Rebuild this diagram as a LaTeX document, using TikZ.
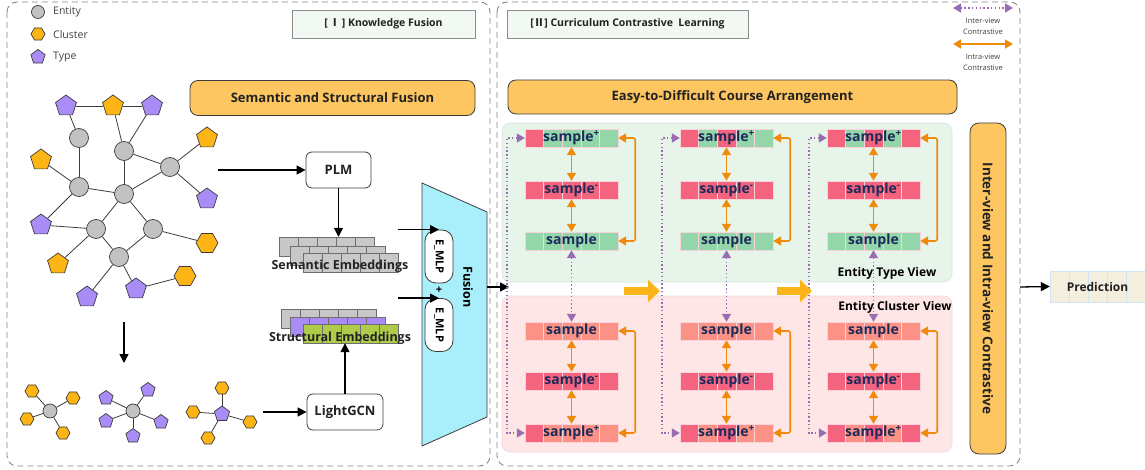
\documentclass[tikz,border=0pt]{standalone}
\usepackage{fontspec}
\setmainfont{Open Sans}
\newfontfamily\cjk{Noto Sans CJK SC}
\usetikzlibrary{arrows.meta,shapes.geometric,calc}

\definecolor{panelgray}{HTML}{858585}
\definecolor{edgegray}{HTML}{3C3C3C}
\definecolor{nodegray}{HTML}{C2C2C2}
\definecolor{clusterc}{HTML}{FDB515}
\definecolor{typec}{HTML}{A98CF5}
\definecolor{boxorange}{HTML}{FDC660}
\definecolor{titlefill}{HTML}{F2F8F2}
\definecolor{titleline}{HTML}{8C8C8C}
\definecolor{darktext}{HTML}{222222}
\definecolor{legendgray}{HTML}{404040}
\definecolor{fusioncyan}{HTML}{A9EEFB}
\definecolor{embgray}{HTML}{C8C8C8}
\definecolor{embpurple}{HTML}{A98CF5}
\definecolor{embgreen}{HTML}{AECB4A}
\definecolor{embline}{HTML}{6E6E6E}
\definecolor{pinkc}{HTML}{F4647F}
\definecolor{greenc}{HTML}{93D6A9}
\definecolor{salmonc}{HTML}{FB9285}
\definecolor{cellline}{HTML}{F9D3DA}
\definecolor{navy}{HTML}{1C2B5A}
\definecolor{arrorange}{HTML}{EF8A0A}
\definecolor{arrpurple}{HTML}{9A6DB2}
\definecolor{typebg}{HTML}{E7F4EA}
\definecolor{typeline}{HTML}{D8E9DC}
\definecolor{clusterbg}{HTML}{FDE6E5}
\definecolor{clusterline}{HTML}{F6D6D6}
\definecolor{blockyellow}{HTML}{FBB41A}
\definecolor{predfill}{HTML}{F3EEDD}
\definecolor{predline}{HTML}{CFE6F2}

\newcommand\txtsize[1]{\fontsize{#1}{#1}\selectfont}
\newcommand\samplep{sample\textsuperscript{+}}
\newcommand\samplem{sample\textsuperscript{-}}

\tikzset{
  panel/.style={draw=panelgray, line width=0.9pt, dash pattern=on 6pt off 4pt, rounded corners=10pt},
  ent/.style={circle, draw=edgegray, fill=nodegray, line width=0.7pt, minimum size=19pt, inner sep=0pt},
  typep/.style={regular polygon, regular polygon sides=5, draw=edgegray, fill=typec, line width=0.7pt, minimum size=22pt, inner sep=0pt},
  clusp/.style={typep, fill=clusterc},
  hexa/.style={regular polygon, regular polygon sides=6, draw=edgegray, fill=clusterc, line width=0.7pt, minimum size=22pt, inner sep=0pt},
  gedge/.style={draw=edgegray, line width=0.8pt},
  blackarr/.style={draw=black, line width=1.3pt, -{Triangle[length=9pt,width=9pt]}},
  procbox/.style={draw=edgegray, fill=white, line width=0.8pt, rounded corners=6pt, font=\txtsize{13}\bfseries, text=darktext},
  stagebox/.style={draw=edgegray, fill=boxorange, line width=0.8pt, rounded corners=8pt, font=\txtsize{13}\bfseries, text=darktext},
  titlebox/.style={draw=titleline, fill=titlefill, line width=0.6pt, font=\txtsize{10.5}\bfseries, text=darktext},
  legendtxt/.style={anchor=west, font=\txtsize{10.5}, text=legendgray, inner sep=0pt},
  smalltxt/.style={font=\txtsize{7.5}, text=legendgray, inner sep=0pt},
  emblayer/.style={minimum width=95pt, minimum height=19pt, inner sep=0pt},
  embcell/.style={draw=embline, line width=0.5pt},
  embtxt/.style={font=\txtsize{12.5}\bfseries, text=darktext, inner sep=0pt},
  mlpbox/.style={draw=edgegray, fill=white, line width=0.8pt, rounded corners=11pt, rotate=-90, minimum width=53pt, minimum height=28pt, inner sep=0pt, font=\txtsize{11}\bfseries},
  rowbox/.style={minimum width=93pt, minimum height=18pt, inner sep=0pt},
  samplecell/.style={draw=cellline, line width=0.6pt},
  sampletxt/.style={font=\txtsize{14}\bfseries, text=navy, inner sep=0pt},
  orangearr/.style={draw=arrorange, line width=1.6pt, rounded corners=2pt, {Triangle[length=8pt,width=9pt]}-{Triangle[length=8pt,width=9pt]}},
  purplearr/.style={draw=arrpurple, line width=1.4pt, dash pattern=on 1.4pt off 2.4pt, {Triangle[length=8pt,width=9pt]}-{Triangle[length=8pt,width=9pt]}},
  blockarr/.style={draw=blockyellow, line width=8pt, -{Triangle[length=12pt,width=22pt]}},
  viewlabel/.style={font=\txtsize{12}\bfseries, text=black, inner sep=0pt},
}

% one row of five coloured cells with its label: name, x, y, colours, label
\newcommand\samplerow[5]{%
  \node[rowbox] (#1) at (#2,#3) {};
  \foreach \cc [count=\ii from 0] in {#4}
    \filldraw[samplecell, fill=\cc] ({#2-46.5+\ii*18.6},{#3-9}) rectangle ++(18.6,18);
  \node[sampletxt] (#1t) at (#2,#3) {#5};
}

% one layer of an embedding stack: name, left x, top y, colour
\newcommand\emblayer[4]{%
  \node[emblayer] (#1) at ({#2+47.5},{#3+9.5}) {};
  \foreach \kk in {0,...,4}
    \filldraw[embcell, fill=#4] ({#2+\kk*19},#3) rectangle ++(19,19);
}

\begin{document}
\begin{tikzpicture}[x=1pt,y=-1pt]
\useasboundingbox (0,0) rectangle (1145,470);

% ---------------- panels ----------------
\draw[panel] (7,2) rectangle (490,466);
\draw[panel] (497,2) rectangle (1020,466);

% ---------------- legend ----------------
\node[ent, minimum size=13pt] (lgEnt) at (38,12) {};
\node[legendtxt] (lgEntT) at (53,12) {Entity};
\node[hexa, minimum size=14pt] (lgClu) at (38,34) {};
\node[legendtxt] (lgCluT) at (53,35) {Cluster};
\node[typep, minimum size=15pt] (lgTyp) at (38,57) {};
\node[legendtxt] (lgTypT) at (53,57) {Type};

% ---------------- section titles ----------------
\node[titlebox, minimum width=183pt, minimum height=28pt] (kfTitle) at (383.5,24) {[\,{\cjk Ⅰ}\,] Knowledge Fusion};
\node[titlebox, minimum width=241pt, minimum height=28pt] (clTitle) at (627.5,24) {[{\cjk Ⅱ}] Curriculum Contrastive\ \ Learning};
\node[stagebox, minimum width=285pt, minimum height=35pt] (ssf) at (332.5,98) {Semantic and Structural Fusion};
\node[stagebox, minimum width=449pt, minimum height=34pt] (edc) at (732.5,97) {Easy-to-Difficult Course Arrangement};

% ---------------- knowledge graph ----------------
\node[ent] (c1) at (79,138) {};
\node[ent] (c2) at (124,151) {};
\node[ent] (c3) at (170,167) {};
\node[ent] (c4) at (79,187) {};
\node[ent] (c5) at (124,194) {};
\node[ent] (c6) at (96,229) {};
\node[ent] (c7) at (153,229) {};
\node[ent] (c8) at (119,257) {};
\node[typep] (p1) at (66,106) {};
\node[typep] (p2) at (152,106) {};
\node[typep] (p3) at (207,199) {};
\node[typep] (p4) at (41,225) {};
\node[typep] (p5) at (136,289) {};
\node[typep] (p6) at (87,297) {};
\node[clusp] (o1) at (113,106) {};
\node[clusp] (o2) at (41,160) {};
\node[clusp] (o3) at (207,138) {};
\node[clusp] (o4) at (58,264) {};
\node[hexa] (h1) at (207,243) {};
\node[hexa] (h2) at (185,276) {};
\foreach \a/\b in {p1/o1, o1/p2, p1/c1, o1/c2, p2/c2, c1/c4, c2/c5, c2/c3, o2/c4,
                   c4/c5, c5/c3, c3/o3, c3/p3, p4/c4, p4/c6, c5/c6, c5/c7, c6/o4,
                   c6/c8, c7/h1, c7/c8, c8/p6, c8/p5, p5/h2}
  \draw[gedge] (\a) -- (\b);

% ---------------- decomposed stars ----------------
\node[ent, minimum size=14pt] (st1) at (50,411) {};
\foreach \p [count=\i] in {(32,391),(73,398),(27,419),(63,433)} {
  \node[hexa, minimum size=14pt] (st1l\i) at \p {};
  \draw[gedge] (st1) -- (st1l\i);
}
\node[ent, minimum size=14pt] (st2) at (133,411) {};
\foreach \p [count=\i] in {(106,398),(148,390),(106,421),(161,422),(133,436)} {
  \node[typep, minimum size=15pt] (st2l\i) at \p {};
  \draw[gedge] (st2) -- (st2l\i);
}
\node[typep, minimum size=16pt] (st3) at (222,414) {};
\foreach \p [count=\i] in {(222,388),(193,412),(250,422),(208,438)} {
  \node[hexa, minimum size=14pt] (st3l\i) at \p {};
  \draw[gedge] (st3) -- (st3l\i);
}

% ---------------- encoders ----------------
\node[procbox, minimum width=65pt, minimum height=36pt] (plm) at (338.5,170) {PLM};
\node[procbox, minimum width=76pt, minimum height=36pt] (lgcn) at (345,412) {LightGCN};
\coordinate (graphR) at (218,170);
\coordinate (graphB) at (124,322);
\coordinate (starsT) at (124,363);
\coordinate (starsR) at (263,412);
\draw[blackarr] (graphR) -- (plm.west);
\draw[blackarr] (graphB) -- (starsT);
\draw[blackarr] (starsR) -- (lgcn.west);

% semantic embeddings
\emblayer{semA}{279}{237}{embgray}
\emblayer{semB}{290}{246}{embgray}
\emblayer{sem}{303}{253}{embgray}
\node[embtxt] (semT) at (340,266) {Semantic Embeddings};
% structural embeddings
\emblayer{strA}{281}{309}{embgray}
\emblayer{strB}{290}{317}{embpurple}
\emblayer{str}{303}{324}{embgreen}
\node[embtxt] (strT) at (340,338) {Structural Embeddings};

\draw[blackarr] (plm.south) -- (plm.south |- semA.north);
\draw[blackarr] (lgcn.north) -- (lgcn.north |- str.south);

% ---------------- fusion ----------------
\draw[draw=edgegray, fill=fusioncyan, line width=0.8pt] (422,183) -- (487,212) -- (487,417) -- (422,446) -- cycle;
\node[mlpbox] (emlp1) at (439,256.5) {E\_MLP};
\node[mlpbox] (emlp2) at (439,325) {E\_MLP};
\node[font=\txtsize{11}\bfseries, inner sep=0pt] (plus) at (439,290) {+};
\node[font=\txtsize{12.5}\bfseries, rotate=-90, inner sep=0pt] (fusionT) at (468,287) {Fusion};
\draw[blackarr] (sem.east |- emlp1.west) -- (emlp1.west);
\draw[blackarr] (str.east |- emlp2.west) -- (emlp2.west);
\coordinate (fusionR) at (487,287);
\coordinate (viewIn) at (509,287);
\draw[blackarr] (fusionR) -- (viewIn);

% ---------------- views ----------------
\filldraw[fill=typebg, draw=typeline, line width=0.6pt, rounded corners=8pt] (502,123) rectangle (952,282);
\filldraw[fill=clusterbg, draw=clusterline, line width=0.6pt, rounded corners=8pt] (502,296) rectangle (952,452);

% column 1
\samplerow{s11}{571.5}{138}{pinkc,greenc,greenc,greenc,greenc}{\samplep}
\samplerow{s12}{571.5}{190}{pinkc,pinkc,pinkc,pinkc,pinkc}{\samplem}
\samplerow{s13}{571.5}{241}{greenc,greenc,greenc,greenc,greenc}{sample}
\samplerow{s14}{571.5}{331}{salmonc,salmonc,salmonc,salmonc,salmonc}{sample}
\samplerow{s15}{571.5}{381}{pinkc,pinkc,pinkc,pinkc,pinkc}{\samplem}
\samplerow{s16}{571.5}{433}{pinkc,salmonc,salmonc,salmonc,salmonc}{\samplep}
% column 2
\samplerow{s21}{726.5}{138}{pinkc,greenc,pinkc,greenc,greenc}{\samplep}
\samplerow{s22}{726.5}{190}{pinkc,pinkc,pinkc,pinkc,pinkc}{\samplem}
\samplerow{s23}{726.5}{241}{greenc,greenc,greenc,greenc,greenc}{sample}
\samplerow{s24}{726.5}{331}{salmonc,salmonc,salmonc,salmonc,salmonc}{sample}
\samplerow{s25}{726.5}{381}{pinkc,pinkc,pinkc,pinkc,pinkc}{\samplem}
\samplerow{s26}{726.5}{433}{pinkc,salmonc,pinkc,salmonc,salmonc}{\samplep}
% column 3
\samplerow{s31}{873.5}{138}{pinkc,greenc,pinkc,greenc,pinkc}{\samplep}
\samplerow{s32}{873.5}{190}{pinkc,pinkc,pinkc,pinkc,pinkc}{\samplem}
\samplerow{s33}{873.5}{241}{greenc,greenc,greenc,greenc,greenc}{sample}
\samplerow{s34}{873.5}{331}{salmonc,salmonc,salmonc,salmonc,salmonc}{sample}
\samplerow{s35}{873.5}{381}{pinkc,pinkc,pinkc,pinkc,pinkc}{\samplem}
\samplerow{s36}{873.5}{433}{pinkc,salmonc,pinkc,salmonc,pinkc}{\samplep}

\foreach \k in {1,2,3} {
  % intra-view contrast
  \draw[orangearr] (s\k1.south) -- (s\k2.north);
  \draw[orangearr] (s\k2.south) -- (s\k3.north);
  \draw[orangearr] (s\k4.south) -- (s\k5.north);
  \draw[orangearr] (s\k5.south) -- (s\k6.north);
  \draw[orangearr] (s\k1.east) -- ++(17,0) |- (s\k3.east);
  \draw[orangearr] (s\k4.east) -- ++(17,0) |- (s\k6.east);
  % inter-view contrast
  \draw[purplearr] (s\k3.south) -- (s\k4.north);
  \draw[purplearr] (s\k1.west) -- ++(-18,0) |- (s\k6.west);
}

% curriculum steps
\coordinate (stepA1) at (624,291);
\coordinate (stepA2) at (660,291);
\coordinate (stepB1) at (777,291);
\coordinate (stepB2) at (812,291);
\draw[blockarr] (stepA1) -- (stepA2);
\draw[blockarr] (stepB1) -- (stepB2);

\node[viewlabel] (typeL) at (887,273) {Entity Type View};
\node[viewlabel] (clusL) at (895,307) {Entity Cluster View};

% contrast legend
\coordinate (lgP1) at (953,8);
\coordinate (lgP2) at (1013,8);
\draw[purplearr] (lgP1) -- (lgP2);
\node[smalltxt] (lgPt1) at (983,21) {Inter-view};
\node[smalltxt] (lgPt2) at (983,32) {Contrastive};
\coordinate (lgO1) at (953,44);
\coordinate (lgO2) at (1013,44);
\draw[orangearr] (lgO1) -- (lgO2);
\node[smalltxt] (lgOt1) at (983,57) {Intra-view};
\node[smalltxt] (lgOt2) at (983,68) {Contrastive};

% ---------------- joint contrast and prediction ----------------
\node[stagebox, rotate=-90, minimum width=331pt, minimum height=36pt, rounded corners=9pt, font=\txtsize{13.5}\bfseries] (ivbar) at (988,288.5) {Inter-view and Intra-view Contrastive};

\node[rowbox, minimum width=95pt, minimum height=31pt] (pred) at (1097.5,286.5) {};
\foreach \k in {0,...,4}
  \filldraw[fill=predfill, draw=predline, line width=0.8pt] ({1050+\k*19},271) rectangle ++(19,31);
\node[font=\txtsize{12}\bfseries, text=darktext, inner sep=0pt] (predT) at (1097.5,286.5) {Prediction};
\coordinate (viewOut) at (1020,287);
\draw[blackarr] (viewOut) -- (pred.west);

\end{tikzpicture}
\end{document}
